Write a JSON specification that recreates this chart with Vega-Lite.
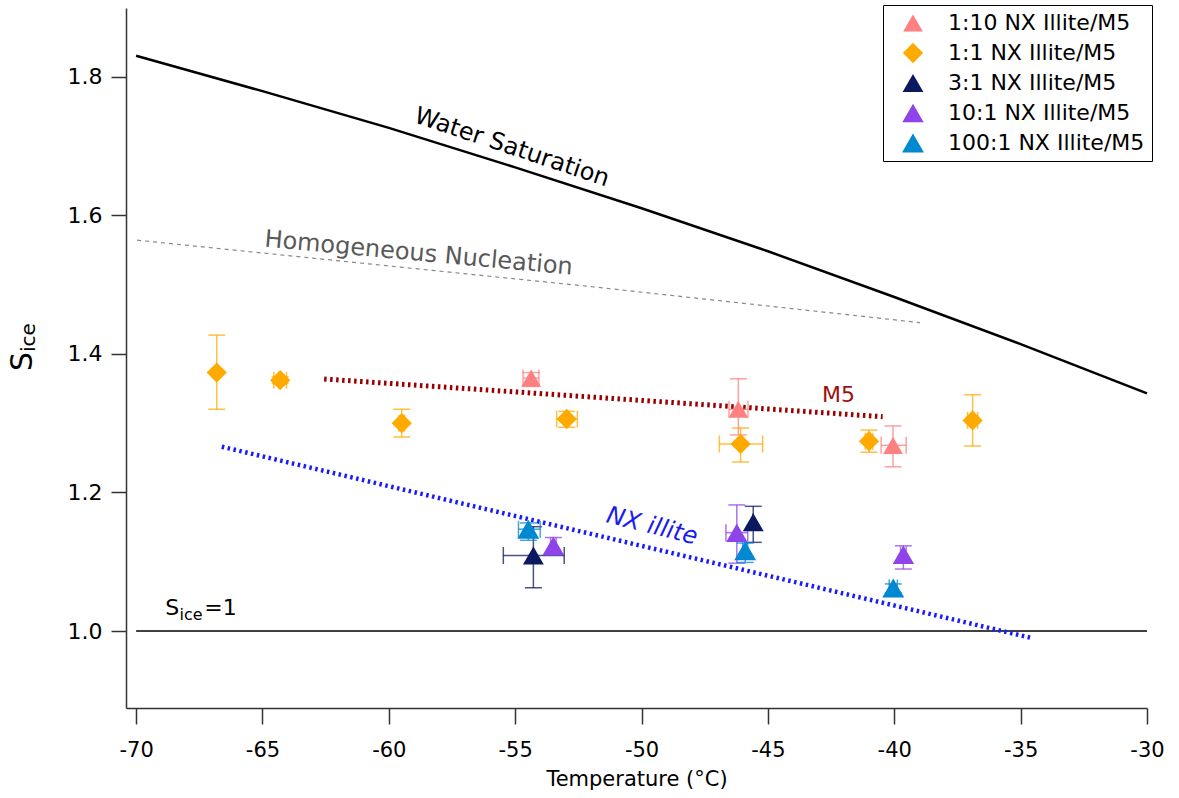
{
  "$schema": "https://vega.github.io/schema/vega-lite/v6.json",
  "width": 1021,
  "height": 700,
  "autosize": {"type": "none"},
  "padding": {"left": 126, "top": 8, "right": 32, "bottom": 90},
  "background": "white",
  "config": {
    "view": {"stroke": null},
    "font": "DejaVu Sans",
    "axis": {"grid": false, "domainColor": "#333", "tickColor": "#333", "domainWidth": 1.5, "tickWidth": 1.5, "labelColor": "black", "titleColor": "black", "labelFont": "DejaVu Sans", "titleFont": "DejaVu Sans", "titleFontWeight": "normal"}
  },
  "resolve": {"legend": {"color": "independent", "shape": "independent", "size": "independent"}},
  "datasets": {
    "points": [
      {"series": "1:10 NX Illite/M5", "T": -54.37, "S": 1.365, "Tlo": -54.69, "Thi": -54.06, "Slo": 1.353, "Shi": 1.373},
      {"series": "1:10 NX Illite/M5", "T": -46.17, "S": 1.320, "Tlo": -46.54, "Thi": -45.79, "Slo": 1.283, "Shi": 1.364},
      {"series": "1:10 NX Illite/M5", "T": -40.05, "S": 1.268, "Tlo": -40.52, "Thi": -39.53, "Slo": 1.237, "Shi": 1.296},
      {"series": "1:1 NX Illite/M5", "T": -66.81, "S": 1.373, "Tlo": -66.81, "Thi": -66.81, "Slo": 1.320, "Shi": 1.427},
      {"series": "1:1 NX Illite/M5", "T": -64.30, "S": 1.362, "Tlo": -64.55, "Thi": -64.05, "Slo": 1.357, "Shi": 1.367},
      {"series": "1:1 NX Illite/M5", "T": -59.49, "S": 1.300, "Tlo": -59.6, "Thi": -59.38, "Slo": 1.280, "Shi": 1.320},
      {"series": "1:1 NX Illite/M5", "T": -52.96, "S": 1.306, "Tlo": -53.36, "Thi": -52.54, "Slo": 1.294, "Shi": 1.317},
      {"series": "1:1 NX Illite/M5", "T": -46.08, "S": 1.270, "Tlo": -46.92, "Thi": -45.21, "Slo": 1.244, "Shi": 1.293},
      {"series": "1:1 NX Illite/M5", "T": -41.0, "S": 1.274, "Tlo": -41.15, "Thi": -40.85, "Slo": 1.258, "Shi": 1.290},
      {"series": "1:1 NX Illite/M5", "T": -36.90, "S": 1.304, "Tlo": -37.1, "Thi": -36.7, "Slo": 1.267, "Shi": 1.341},
      {"series": "3:1 NX Illite/M5", "T": -54.28, "S": 1.109, "Tlo": -55.47, "Thi": -53.06, "Slo": 1.0625, "Shi": 1.1506},
      {"series": "3:1 NX Illite/M5", "T": -45.58, "S": 1.157, "Tlo": -45.58, "Thi": -45.58, "Slo": 1.128, "Shi": 1.180},
      {"series": "10:1 NX Illite/M5", "T": -53.49, "S": 1.123, "Tlo": -53.6, "Thi": -53.38, "Slo": 1.110, "Shi": 1.135},
      {"series": "10:1 NX Illite/M5", "T": -46.23, "S": 1.142, "Tlo": -46.66, "Thi": -45.80, "Slo": 1.098, "Shi": 1.182},
      {"series": "10:1 NX Illite/M5", "T": -39.64, "S": 1.110, "Tlo": -39.75, "Thi": -39.53, "Slo": 1.0895, "Shi": 1.123},
      {"series": "100:1 NX Illite/M5", "T": -54.48, "S": 1.147, "Tlo": -54.87, "Thi": -54.01, "Slo": 1.131, "Shi": 1.156},
      {"series": "100:1 NX Illite/M5", "T": -45.90, "S": 1.116, "Tlo": -46.0, "Thi": -45.8, "Slo": 1.099, "Shi": 1.127},
      {"series": "100:1 NX Illite/M5", "T": -40.04, "S": 1.062, "Tlo": -40.2, "Thi": -39.88, "Slo": 1.055, "Shi": 1.068}
    ],
    "water": [
      {"T": -70, "S": 1.830}, {"T": -65, "S": 1.779}, {"T": -60, "S": 1.726}, {"T": -55, "S": 1.669},
      {"T": -50, "S": 1.610}, {"T": -45, "S": 1.548}, {"T": -40, "S": 1.482}, {"T": -35, "S": 1.414},
      {"T": -30, "S": 1.343}
    ],
    "homog": [{"T": -69.96, "S": 1.564}, {"T": -52, "S": 1.497}, {"T": -38.98, "S": 1.445}],
    "m5": [{"T": -62.56, "S": 1.3637}, {"T": -40.46, "S": 1.3093}],
    "nx": [{"T": -66.61, "S": 1.266}, {"T": -34.5, "S": 0.9895}],
    "one": [{"T": -70, "S": 1.0}, {"T": -30, "S": 1.0}]
  },
  "encoding": {
    "x": {"field": "T", "type": "quantitative", "scale": {"domain": [-70.4, -30], "nice": false, "zero": false},
      "axis": {"title": "Temperature (°C)", "values": [-70, -65, -60, -55, -50, -45, -40, -35, -30], "labelExpr": "datum.value < 0 ? '-' + format(-datum.value, 'd') : format(datum.value, 'd')", "labelFontSize": 21, "titleFontSize": 21, "tickSize": 16, "labelPadding": 15, "titlePadding": 8, "labelFlush": false}},
    "y": {"field": "S", "type": "quantitative", "scale": {"domain": [0.889, 1.899], "nice": false, "zero": false},
      "axis": {"title": null, "values": [1.0, 1.2, 1.4, 1.6, 1.8], "format": ".1f", "labelFontSize": 22, "tickSize": 15, "labelPadding": 9, "labelFlush": false}}
  },
  "layer": [
    {"data": {"name": "one"}, "mark": {"type": "line", "color": "black", "strokeWidth": 1.5}, "encoding": {}},
    {"data": {"name": "water"}, "mark": {"type": "line", "color": "black", "strokeWidth": 2.5}, "encoding": {}},
    {"data": {"name": "homog"}, "mark": {"type": "line", "color": "#888888", "strokeWidth": 1.2, "strokeDash": [4, 4]}, "encoding": {}},
    {"data": {"name": "m5"}, "mark": {"type": "line", "color": "#990000", "strokeWidth": 5, "strokeDash": [2.5, 3.5]}, "encoding": {}},
    {"data": {"name": "nx"}, "mark": {"type": "line", "color": "#1a1aff", "strokeWidth": 4.5, "strokeDash": [2.5, 3.5]}, "encoding": {}},
    {"data": {"name": "points"}, "mark": {"type": "rule", "strokeWidth": 1.5, "opacity": 0.75},
      "encoding": {"y": {"field": "Slo", "type": "quantitative"}, "y2": {"field": "Shi"}, "color": {"field": "series", "type": "nominal", "legend": null}}},
    {"data": {"name": "points"}, "mark": {"type": "rule", "strokeWidth": 1.5, "opacity": 0.75},
      "encoding": {"x": {"field": "Tlo", "type": "quantitative"}, "x2": {"field": "Thi"}, "color": {"field": "series", "type": "nominal", "legend": null}}},
    {"data": {"name": "points"}, "mark": {"type": "tick", "orient": "horizontal", "size": 17, "thickness": 1.5, "opacity": 0.75},
      "encoding": {"y": {"field": "Slo", "type": "quantitative"}, "color": {"field": "series", "type": "nominal", "legend": null}}},
    {"data": {"name": "points"}, "mark": {"type": "tick", "orient": "horizontal", "size": 17, "thickness": 1.5, "opacity": 0.75},
      "encoding": {"y": {"field": "Shi", "type": "quantitative"}, "color": {"field": "series", "type": "nominal", "legend": null}}},
    {"data": {"name": "points"}, "mark": {"type": "tick", "orient": "vertical", "size": 17, "thickness": 1.5, "opacity": 0.75},
      "encoding": {"x": {"field": "Tlo", "type": "quantitative"}, "color": {"field": "series", "type": "nominal", "legend": null}}},
    {"data": {"name": "points"}, "mark": {"type": "tick", "orient": "vertical", "size": 17, "thickness": 1.5, "opacity": 0.75},
      "encoding": {"x": {"field": "Thi", "type": "quantitative"}, "color": {"field": "series", "type": "nominal", "legend": null}}},
    {"data": {"name": "points"}, "mark": {"type": "point", "filled": true, "opacity": 1, "strokeWidth": 0},
      "encoding": {
        "color": {"field": "series", "type": "nominal",
          "scale": {"domain": ["1:10 NX Illite/M5", "1:1 NX Illite/M5", "3:1 NX Illite/M5", "10:1 NX Illite/M5", "100:1 NX Illite/M5"],
                    "range": ["#FF8080", "#FFAA00", "#0B1A60", "#8E44E8", "#0088D1"]},
          "legend": {"title": null, "orient": "none", "legendX": 757, "legendY": -3, "strokeColor": "black", "fillColor": "white", "padding": 7, "symbolOffset": 12, "rowPadding": 8, "labelFontSize": 22, "labelFont": "DejaVu Sans", "labelColor": "black", "labelOffset": 24, "symbolStrokeWidth": 0, "symbolOpacity": 1, "labelLimit": 400}},
        "shape": {"field": "series", "type": "nominal",
          "scale": {"domain": ["1:10 NX Illite/M5", "1:1 NX Illite/M5", "3:1 NX Illite/M5", "10:1 NX Illite/M5", "100:1 NX Illite/M5"],
                    "range": ["triangle-up", "diamond", "triangle-up", "triangle-up", "triangle-up"]},
          "legend": {"title": null, "orient": "none", "legendX": 757, "legendY": -3, "strokeColor": "black", "fillColor": "white", "padding": 7, "symbolOffset": 12, "rowPadding": 8, "labelFontSize": 22, "labelFont": "DejaVu Sans", "labelColor": "black", "labelOffset": 24, "symbolStrokeWidth": 0, "symbolOpacity": 1, "labelLimit": 400}},
        "size": {"field": "series", "type": "nominal",
          "scale": {"domain": ["1:10 NX Illite/M5", "1:1 NX Illite/M5", "3:1 NX Illite/M5", "10:1 NX Illite/M5", "100:1 NX Illite/M5"],
                    "range": [390, 480, 390, 390, 390]},
          "legend": {"title": null, "orient": "none", "legendX": 757, "legendY": -3, "strokeColor": "black", "fillColor": "white", "padding": 7, "symbolOffset": 12, "rowPadding": 8, "labelFontSize": 22, "labelFont": "DejaVu Sans", "labelColor": "black", "labelOffset": 24, "symbolStrokeWidth": 0, "symbolOpacity": 1, "labelLimit": 400}}
      }},
    {"data": {"values": [{"label": "Water Saturation", "T": -59.04, "S": 1.7346}]}, "mark": {"type": "text", "align": "left", "baseline": "alphabetic", "angle": 18.5, "fontSize": 24, "color": "black"}, "encoding": {"text": {"field": "label"}}},
    {"data": {"values": [{"label": "Homogeneous Nucleation", "T": -64.94, "S": 1.5547}]}, "mark": {"type": "text", "align": "left", "baseline": "alphabetic", "angle": 5.2, "fontSize": 24, "color": "#595959"}, "encoding": {"text": {"field": "label"}}},
    {"data": {"values": [{"label": "M5", "T": -42.86, "S": 1.3305}]}, "mark": {"type": "text", "align": "left", "baseline": "alphabetic", "fontSize": 22, "color": "#9B1111"}, "encoding": {"text": {"field": "label"}}},
    {"data": {"values": [{"label": "NX illite", "T": -51.44, "S": 1.1573}]}, "mark": {"type": "text", "align": "left", "baseline": "alphabetic", "angle": 14, "fontSize": 24, "fontStyle": "italic", "color": "#1a1aee"}, "encoding": {"text": {"field": "label"}}},
    {"data": {"values": [{"label": "S", "T": -68.85, "S": 1.0231}, {"label": "=1", "T": -67.3, "S": 1.0231}]}, "mark": {"type": "text", "align": "left", "baseline": "alphabetic", "fontSize": 22, "color": "black"}, "encoding": {"text": {"field": "label"}}},
    {"data": {"values": [{"label": "ice", "T": -68.28, "S": 1.0158}]}, "mark": {"type": "text", "align": "left", "baseline": "alphabetic", "fontSize": 16, "color": "black"}, "encoding": {"text": {"field": "label"}}},
    {"data": {"values": [{"label": "S", "T": -74.115, "S": 1.3753}]}, "mark": {"type": "text", "align": "left", "baseline": "alphabetic", "angle": 270, "fontSize": 30, "color": "black"}, "encoding": {"text": {"field": "label"}}},
    {"data": {"values": [{"label": "ice", "T": -73.996, "S": 1.4027}]}, "mark": {"type": "text", "align": "left", "baseline": "alphabetic", "angle": 270, "fontSize": 20, "color": "black"}, "encoding": {"text": {"field": "label"}}}
  ]
}
